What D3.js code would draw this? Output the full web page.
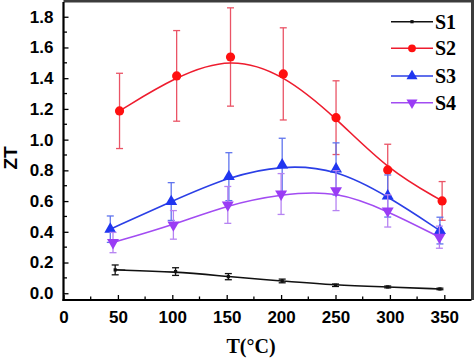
<!DOCTYPE html>
<html><head><meta charset="utf-8">
<script src="https://cdn.jsdelivr.net/npm/d3@7"></script>
<style>body{margin:0;background:#fff}svg{display:block}</style>
</head><body>
<script>
const seriesNames = ["S1","S2","S3","S4"];
const tS1 = [47.5, 103, 151.5, 201, 250, 298, 346];
const zS1 = [0.152, 0.141, 0.108, 0.080, 0.052, 0.041, 0.028];
const eS1 = [0.032, 0.025, 0.020, 0.012, 0.008, 0.006, 0.005];
const tS2 = [51.5, 104, 153.5, 202, 250.5, 298, 348];
const zS2 = [1.187, 1.415, 1.538, 1.428, 1.143, 0.803, 0.601];
const eS2 = [0.245, 0.295, 0.320, 0.300, 0.240, 0.167, 0.126];
const tS3 = [43, 99, 152, 201, 250.5, 298, 346];
const zS3 = [0.417, 0.597, 0.759, 0.835, 0.809, 0.633, 0.408];
const eS3 = [0.086, 0.123, 0.156, 0.174, 0.170, 0.137, 0.087];
const tS4 = [45.5, 101, 151, 200, 250.5, 298, 345.5];
const zS4 = [0.330, 0.445, 0.575, 0.646, 0.668, 0.536, 0.365];
const eS4 = [0.066, 0.093, 0.120, 0.133, 0.130, 0.105, 0.072];
const xTicks = [0, 50, 100, 150, 200, 250, 300, 350];
const yTicks = [0.0, 0.2, 0.4, 0.6, 0.8, 1.0, 1.2, 1.4, 1.6, 1.8];

const W = 474, H = 360;
const L = 63.5, R = 471.5, T = 2, B = 300;
const svg = d3.select("body").append("svg").attr("width", W).attr("height", H);
const x = d3.scaleLinear().domain([0, 375]).range([L, R]);
const y = d3.scaleLinear().domain([-0.044, 1.896]).range([B, T]);

const styles = [
  {line:"#111", err:"#111", marker:"dot"},
  {line:"#ee1c2e", err:"#ea5466", marker:"circle", fill:"#ff1010"},
  {line:"#2b3fe6", err:"#5f74ee", marker:"tri", fill:"#2036f0"},
  {line:"#a24cf2", err:"#b683f2", marker:"tridown", fill:"#9a3cf5"}
];
const data = [[tS1,zS1,eS1],[tS2,zS2,eS2],[tS3,zS3,eS3],[tS4,zS4,eS4]].map((s,i)=>({
  name: seriesNames[i], style: styles[i],
  pts: s[0].map((t,j)=>({t, z:s[1][j], e:s[2][j]}))
}));

// frame top/right
svg.append("line").attr("x1",L).attr("x2",W).attr("y1",1).attr("y2",1).attr("stroke","#3c3c3c").attr("stroke-width",3);
svg.append("line").attr("x1",472.5).attr("x2",472.5).attr("y1",0).attr("y2",B).attr("stroke","#3c3c3c").attr("stroke-width",3);

// minor ticks
const gT = svg.append("g").attr("stroke","#000").attr("stroke-width",1.3);
d3.range(25, 375, 50).forEach(v=>{
  gT.append("line").attr("x1",x(v)).attr("x2",x(v)).attr("y1",B).attr("y2",B-3.5);
});
d3.range(0.1, 1.9, 0.2).forEach(v=>{
  gT.append("line").attr("x1",L).attr("x2",L+3.5).attr("y1",y(v)).attr("y2",y(v));
});

const xAxis = d3.axisBottom(x).tickValues(xTicks).tickSizeInner(-5).tickSizeOuter(0).tickPadding(11).tickFormat(d3.format("d"));
const gx = svg.append("g").attr("transform",`translate(0,${B})`).call(xAxis);
const yAxis = d3.axisLeft(y).tickValues(yTicks).tickSizeInner(-5).tickSizeOuter(0).tickPadding(10).tickFormat(d3.format(".1f"));
const gy = svg.append("g").attr("transform",`translate(${L},0)`).call(yAxis);
[gx,gy].forEach(g=>{
  g.select(".domain").attr("stroke","#000").attr("stroke-width",2.2);
  g.selectAll(".tick line").attr("stroke","#000").attr("stroke-width",1.3);
  g.selectAll("text").attr("fill","#000").style("font-family","'Liberation Sans',Arial,sans-serif").style("font-weight","bold").style("font-size","17px");
});
gx.select(".domain").attr("d",`M${L-1},0H${R}`);
gy.select(".domain").attr("d",`M0,${B+1}V${T}`);

// axis titles
svg.append("text").attr("transform","translate(17,158) rotate(-90)").attr("text-anchor","middle")
  .style("font-family","'Liberation Sans',Arial,sans-serif").style("font-weight","bold").style("font-size","19px").text("ZT");
svg.append("text").attr("x",251).attr("y",353).attr("text-anchor","middle")
  .style("font-family","'Liberation Serif','Times New Roman',serif").style("font-weight","bold").style("font-size","20px").text("T(°C)");

function marker(g, type, fill, px, py, scale){
  scale = scale || 1;
  if(type==="dot") g.append("rect").attr("x",px-1.6).attr("y",py-1.6).attr("width",3.2).attr("height",3.2).attr("fill","#111");
  else if(type==="circle") g.append("circle").attr("cx",px).attr("cy",py).attr("r",4.6*scale).attr("fill",fill);
  else if(type==="tri") g.append("path").attr("d",d3.symbol(d3.symbolTriangle, 62*scale)()).attr("transform",`translate(${px},${py})`).attr("fill",fill);
  else g.append("path").attr("d",d3.symbol(d3.symbolTriangle, 62*scale)()).attr("transform",`translate(${px},${py}) rotate(180)`).attr("fill",fill);
}

const line = d3.line().x(d=>x(d.t)).y(d=>y(d.z)).curve(d3.curveBasis);
data.forEach(s=>{
  const g = svg.append("g");
  // error bars
  s.pts.forEach(p=>{
    const cx = x(p.t);
    const eg = g.append("g").attr("stroke",s.style.err).attr("stroke-width",1.3).attr("fill","none");
    eg.append("line").attr("x1",cx).attr("x2",cx).attr("y1",y(p.z+p.e)).attr("y2",y(p.z-p.e));
    eg.append("line").attr("x1",cx-3.5).attr("x2",cx+3.5).attr("y1",y(p.z+p.e)).attr("y2",y(p.z+p.e));
    eg.append("line").attr("x1",cx-3.5).attr("x2",cx+3.5).attr("y1",y(p.z-p.e)).attr("y2",y(p.z-p.e));
  });
  g.append("path").attr("d",line(s.pts)).attr("fill","none").attr("stroke",s.style.line).attr("stroke-width",1.6);
  s.pts.forEach(p=>marker(g, s.style.marker, s.style.fill, x(p.t), y(p.z)));
});

// legend
const legY = [21.7, 48.3, 76, 102.7];
data.forEach((s,i)=>{
  const g = svg.append("g");
  g.append("line").attr("x1",391).attr("x2",433).attr("y1",legY[i]).attr("y2",legY[i]).attr("stroke",s.style.line).attr("stroke-width",1.6);
  marker(g, s.style.marker, s.style.fill, 412, legY[i], 0.85);
  g.append("text").attr("x",435).attr("y",legY[i]+7).style("font-family","'Liberation Serif','Times New Roman',serif")
    .style("font-weight","bold").style("font-size","20px").attr("fill","#000").text(s.name);
});
</script>
</body></html>
